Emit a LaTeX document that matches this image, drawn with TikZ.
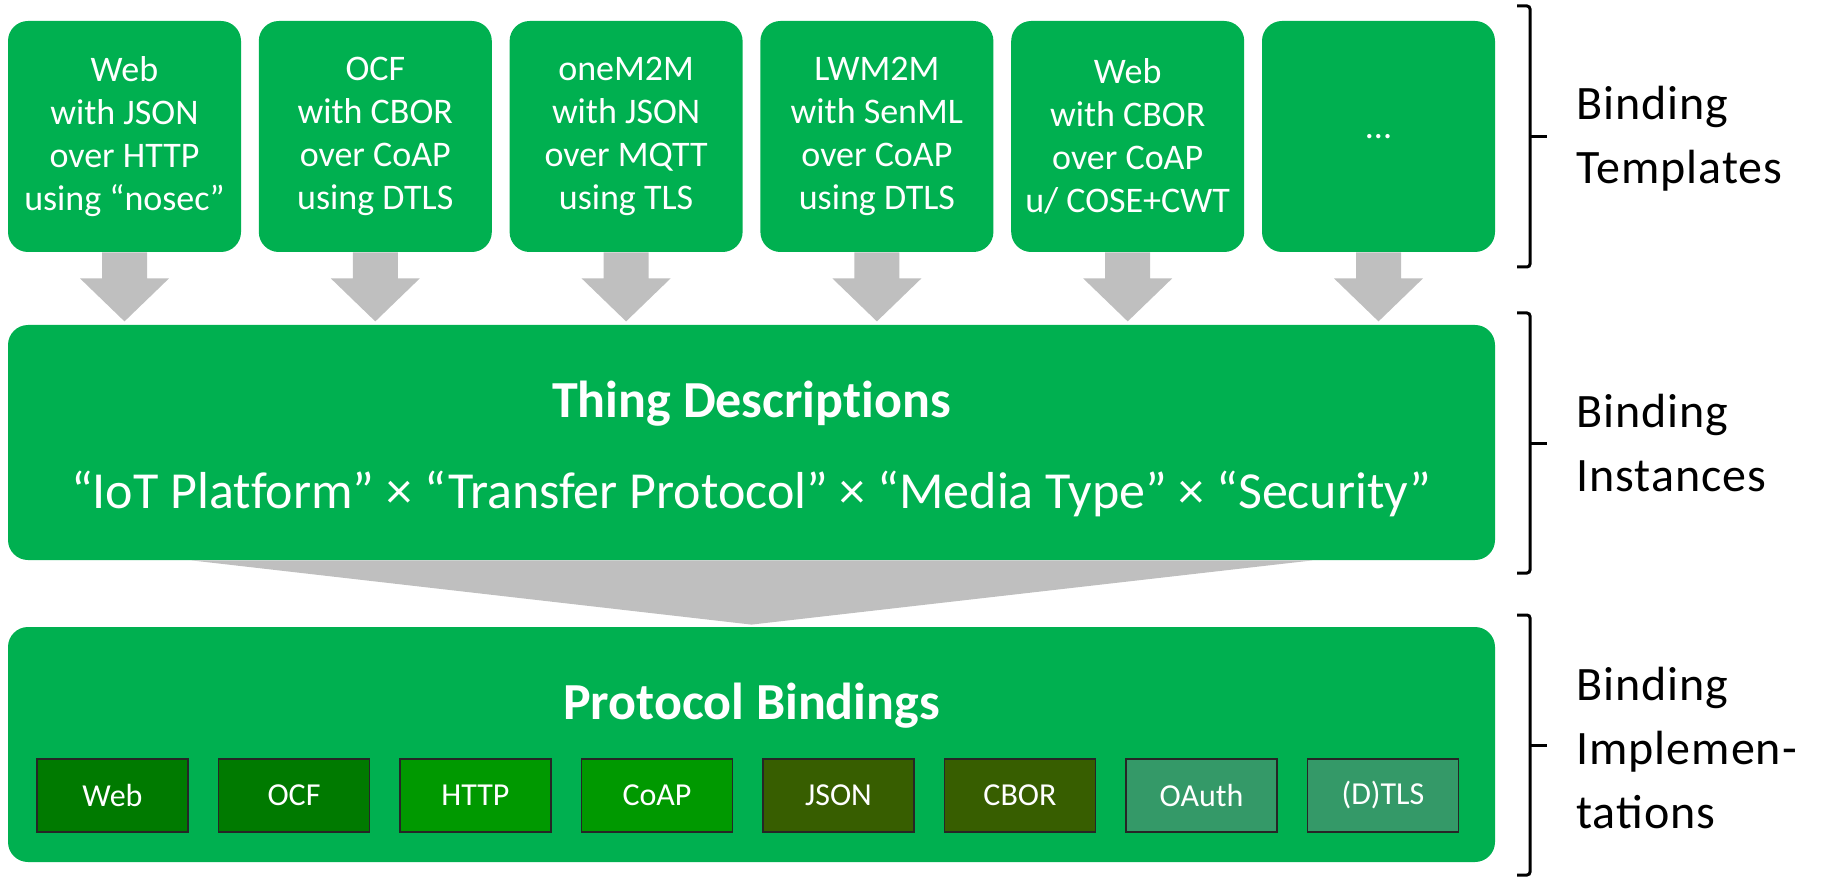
\documentclass[tikz,border=0pt]{standalone}
\usepackage{fontspec}
\setmainfont[Ligatures=CommonOff]{Carlito}
\newfontfamily\sidefont[LetterSpace=2]{Carlito}
\usetikzlibrary{calc,positioning}
\definecolor{boxgreen}{RGB}{0,176,80}
\definecolor{webgreen}{RGB}{0,122,0}
\definecolor{protgreen}{RGB}{0,153,0}
\definecolor{mediagreen}{RGB}{55,94,0}
\definecolor{secgreen}{RGB}{52,153,104}
\definecolor{arrowgray}{RGB}{191,191,191}
\def\tmplarrow(#1){\fill[blockarrow] ($(#1.south)+(-22.5,0)$) -- ($(#1.south)+(-22.5,26)$) -- ($(#1.south)+(-44.5,26)$) -- ($(#1.south)+(0,69)$) -- ($(#1.south)+(44.5,26)$) -- ($(#1.south)+(22.5,26)$) -- ($(#1.south)+(22.5,0)$) -- cycle;}

\begin{document}
\begin{tikzpicture}[x=0.5pt,y=-0.5pt,
    tmpl/.style={fill=boxgreen, rounded corners=10pt, minimum width=116.5pt, minimum height=115.5pt, inner sep=0pt, text=white, align=center, font=\fontsize{18}{21.5}\selectfont},
    layer/.style={fill=boxgreen, rounded corners=10pt, minimum width=743.5pt, minimum height=117.5pt, inner sep=0pt},
    layertitle/.style={text=white, font=\bfseries\fontsize{26}{30}\selectfont},
    impl/.style={draw=black!85, line width=0.6pt, minimum width=75.5pt, minimum height=36.5pt, inner sep=0pt, text=white, font=\fontsize{16}{18}\selectfont},
    blockarrow/.style={fill=arrowgray},
    bracket/.style={line width=1.5pt, rounded corners=1.5pt},
    sidelabel/.style={anchor=west, align=left, inner sep=0pt, font=\sidefont\fontsize{24}{32}\selectfont}]
			%%%%% START %%%%%
			\useasboundingbox (0,0) rectangle (1821,877);
			
			% binding templates
			\node[tmpl] (web) at (124.5,136.5) {Web\\with JSON\\over HTTP\\using “nosec”};
			\node[tmpl] (ocf) at (375.3,136.5) {OCF\\with CBOR\\over CoAP\\using DTLS};
			\node[tmpl] (onem2m) at (626.1,136.5) {oneM2M\\with JSON\\over MQTT\\using TLS};
			\node[tmpl] (lwm2m) at (876.9,136.5) {LWM2M\\with SenML\\over CoAP\\using DTLS};
			\node[tmpl] (webcbor) at (1127.7,136.5) {Web\\with CBOR\\over CoAP\\u/ COSE+CWT};
			\node[tmpl] (more) at (1378.5,136.5) {...};
			
			\tmplarrow(web)
			\tmplarrow(ocf)
			\tmplarrow(onem2m)
			\tmplarrow(lwm2m)
			\tmplarrow(webcbor)
			\tmplarrow(more)
			
			% binding instances
			\node[layer] (td) at (751.5,442.5) {};
			\node[layertitle] (tdtitle) at (751.5,404) {Thing Descriptions};
			\node[text=white, font=\fontsize{26}{30}\selectfont] (tdformula) at (751.5,494) {“IoT Platform” × “Transfer Protocol” × “Media Type” × “Security”};
			
			% binding implementations
			\node[layer] (pb) at (751.5,744.5) {};
			\fill[blockarrow] ($(td.south west)+(184,0)$) -- ($(td.south east)+(-183,0)$) -- ($(pb.north)+(0,-2)$) -- cycle;
			\node[layertitle] (pbtitle) at (751.5,706) {Protocol Bindings};
			
			\node[impl, fill=webgreen] (iweb) at (112.5,795.5) {Web};
			\node[impl, fill=webgreen] (iocf) at (294,795.5) {OCF};
			\node[impl, fill=protgreen] (ihttp) at (475.5,795.5) {HTTP};
			\node[impl, fill=protgreen] (icoap) at (657,795.5) {CoAP};
			\node[impl, fill=mediagreen] (ijson) at (838.5,795.5) {JSON};
			\node[impl, fill=mediagreen] (icbor) at (1020,795.5) {CBOR};
			\node[impl, fill=secgreen] (ioauth) at (1201.5,795.5) {OAuth};
			\node[impl, fill=secgreen] (idtls) at (1383,795.5) {(D)TLS};
			
			% brackets
			\draw[bracket] (1517,6) -- (1530,6) -- (1530,267) -- (1517,267);
			\draw[bracket] (1530,137) -- (1547,137);
			\node[sidelabel] (templates) at (1576,139) {Binding\\Templates};
			
			\draw[bracket] (1517,313) -- (1530,313) -- (1530,573) -- (1517,573);
			\draw[bracket] (1530,443) -- (1547,443);
			\node[sidelabel] (instances) at (1576,443.5) {Binding\\Instances};
			
			\draw[bracket] (1517,615) -- (1530,615) -- (1530,875) -- (1517,875);
			\draw[bracket] (1530,745) -- (1547,745);
			\node[sidelabel] (implementations) at (1576,748.5) {Binding\\Implemen-\\tations};
			%%%%% END %%%%%
\end{tikzpicture}
\end{document}
